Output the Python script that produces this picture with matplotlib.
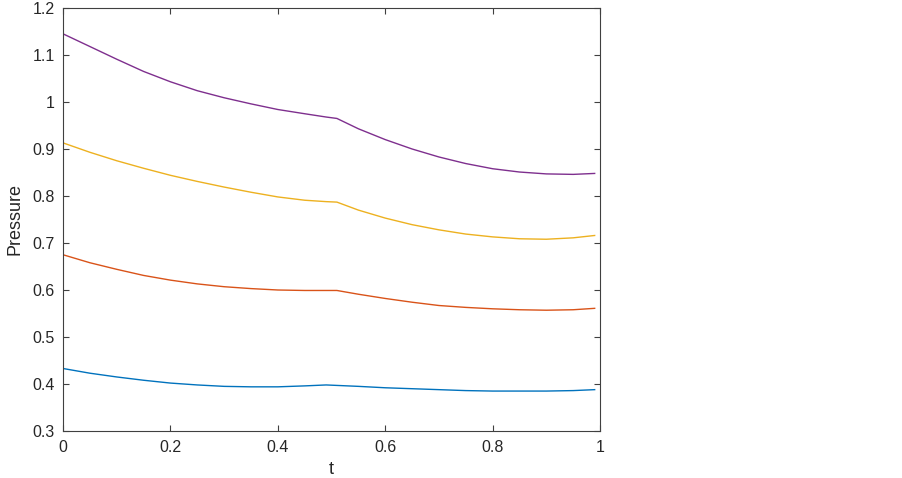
import matplotlib
matplotlib.use("Agg")
import matplotlib.pyplot as plt
from matplotlib.ticker import FuncFormatter

# sample times (kink near t = 0.51)
t = [0, 0.05, 0.1, 0.15, 0.2, 0.25, 0.3, 0.35, 0.4, 0.45, 0.49, 0.51,
     0.55, 0.6, 0.65, 0.7, 0.75, 0.8, 0.85, 0.9, 0.95, 0.99]

p_blue = [0.433, 0.423, 0.415, 0.408, 0.402, 0.398, 0.395, 0.394, 0.394, 0.396, 0.398, 0.397,
          0.395, 0.392, 0.390, 0.388, 0.386, 0.385, 0.385, 0.385, 0.386, 0.388]
p_orange = [0.675, 0.658, 0.644, 0.631, 0.621, 0.613, 0.607, 0.603, 0.600, 0.599, 0.599, 0.599,
            0.591, 0.582, 0.574, 0.567, 0.563, 0.560, 0.558, 0.557, 0.558, 0.561]
p_yellow = [0.913, 0.893, 0.875, 0.859, 0.844, 0.831, 0.819, 0.808, 0.798, 0.791, 0.788, 0.787,
            0.770, 0.753, 0.739, 0.728, 0.719, 0.713, 0.709, 0.708, 0.711, 0.716]
p_purple = [1.145, 1.118, 1.091, 1.065, 1.043, 1.024, 1.009, 0.996, 0.984, 0.975, 0.968, 0.965,
            0.943, 0.920, 0.900, 0.883, 0.869, 0.858, 0.851, 0.847, 0.846, 0.848]

series = [p_blue, p_orange, p_yellow, p_purple]
colors = ["#0072BD", "#D95319", "#EDB120", "#7E2F8E"]

plt.rcParams['font.family'] = ['Liberation Sans', 'DejaVu Sans']

fig = plt.figure(figsize=(9.03, 4.78), dpi=100)
ax = fig.add_axes([0.0698, 0.0983, 0.5947, 0.885])

for vals, c in zip(series, colors):
    ax.plot(t, vals, color=c, lw=1.0, solid_joinstyle='round')

ax.set_xlim(0, 1)
ax.set_ylim(0.3, 1.2)
ax.set_xticks([0, 0.2, 0.4, 0.6, 0.8, 1])
ax.set_yticks([0.3, 0.4, 0.5, 0.6, 0.7, 0.8, 0.9, 1.0, 1.1, 1.2])
fmt = FuncFormatter(lambda v, pos: "%g" % round(v, 2))
ax.xaxis.set_major_formatter(fmt)
ax.yaxis.set_major_formatter(fmt)

axcol = "#404040"
for s in ax.spines.values():
    s.set_color(axcol)
    s.set_linewidth(0.8)
ax.tick_params(direction='in', top=True, right=True, length=4, width=0.8,
               colors=axcol, labelsize=11.5, labelcolor="#262626")
ax.tick_params(axis='x', pad=6.5)
ax.tick_params(axis='y', pad=6)

ax.set_xlabel("t", fontsize=13, color="#262626", labelpad=4)
ax.set_ylabel("Pressure", fontsize=13, color="#262626", labelpad=6)

fig.savefig("out.png", dpi=100)
